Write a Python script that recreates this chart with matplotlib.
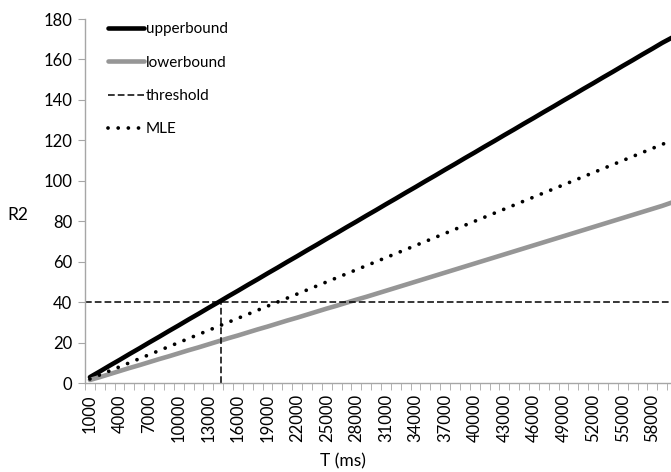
import matplotlib
matplotlib.use("Agg")
import matplotlib.pyplot as plt
from matplotlib.ticker import FixedLocator

plt.rcParams["font.family"] = ["Lato", "DejaVu Sans"]

# categories (ms)
T = list(range(1000, 60001, 1000))

upperbound = [2.9, 5.7, 8.6, 11.4, 14.3, 17.1, 20.0, 22.8, 25.7, 28.5,
              31.4, 34.2, 37.1, 39.9, 42.8, 45.6, 48.5, 51.3, 54.2, 57.0,
              59.9, 62.7, 65.6, 68.4, 71.3, 74.1, 77.0, 79.8, 82.7, 85.5,
              88.4, 91.2, 94.1, 96.9, 99.8, 102.6, 105.5, 108.3, 111.2, 114.0,
              116.9, 119.7, 122.6, 125.4, 128.3, 131.1, 134.0, 136.8, 139.7, 142.5,
              145.4, 148.2, 151.1, 153.9, 156.8, 159.6, 162.5, 165.3, 168.2, 170.8]

lowerbound = [1.5, 2.9, 4.4, 5.9, 7.4, 8.8, 10.3, 11.8, 13.2, 14.7,
              16.2, 17.6, 19.1, 20.6, 22.1, 23.5, 25.0, 26.5, 27.9, 29.4,
              30.9, 32.3, 33.8, 35.3, 36.8, 38.2, 39.7, 41.2, 42.6, 44.1,
              45.6, 47.1, 48.6, 50.1, 51.6, 53.1, 54.6, 56.1, 57.6, 59.1,
              60.6, 62.1, 63.6, 65.1, 66.6, 68.1, 69.6, 71.1, 72.6, 74.1,
              75.6, 77.1, 78.6, 80.1, 81.6, 83.1, 84.6, 86.1, 87.6, 89.3]

mle = [2, 4, 6, 8, 10, 12, 14, 16, 18, 20,
       22, 24, 26, 28, 30, 32, 34, 36, 38, 40,
       42, 44, 46, 48, 50, 52, 54, 56, 58, 60,
       62, 64, 66, 68, 70, 72, 74, 76, 78, 80,
       82, 84, 86, 88, 90, 92, 94, 96, 98, 100,
       102, 104, 106, 108, 110, 112, 114, 116, 118, 120]

threshold = 40
threshold_T = 14300

tick_labels = list(range(1000, 58001, 3000))

fig = plt.figure(figsize=(6.71, 4.72), dpi=100)
ax = fig.add_axes([85 / 671, 89 / 472, 592 / 671, 364 / 472])

ax.plot(T, upperbound, color="black", lw=3.3, solid_capstyle="round", label="upperbound")
ax.plot(T, lowerbound, color="#969696", lw=3.3, solid_capstyle="round", label="lowerbound")
ax.plot([500, 60500], [threshold, threshold], color="black", lw=1.1,
        linestyle=(0, (4.4, 2.0)), label="threshold")
ax.plot(T, mle, color="black", lw=2.7, linestyle=(0, (0.01, 2.7)),
        dash_capstyle="round", label="MLE")
ax.plot([threshold_T, threshold_T], [0, threshold], color="black", lw=1.1,
        linestyle=(0, (4.4, 2.0)))

ax.set_xlim(500, 60500)
ax.set_ylim(0, 180)
ax.set_yticks(range(0, 181, 20))
ax.set_xticks(tick_labels)
ax.set_xticklabels([str(v) for v in tick_labels], rotation=90)
ax.xaxis.set_minor_locator(FixedLocator([500 + 1000 * i for i in range(61)]))

for s in ["top", "right"]:
    ax.spines[s].set_visible(False)
for s in ["left", "bottom"]:
    ax.spines[s].set_color("#a6a6a6")
    ax.spines[s].set_linewidth(1.0)

ax.tick_params(axis="y", length=5, color="#a6a6a6", labelsize=12, pad=4)
ax.tick_params(axis="x", which="major", length=0, labelsize=12, pad=8)
ax.tick_params(axis="x", which="minor", length=5, color="#a6a6a6")

fig.text(343 / 671, 11 / 472, "T (ms)", ha="center", va="center", fontsize=12.5)
fig.text(18 / 671, 1 - 215 / 472, "R2", ha="center", va="center", fontsize=12.5)

leg = ax.legend(loc="upper left", bbox_to_anchor=(102 / 671, 1 - 16 / 472),
                bbox_transform=fig.transFigure, frameon=False, fontsize=11,
                handlelength=2.35, handletextpad=0.1, labelspacing=1.27,
                borderaxespad=0)

fig.savefig("out.png", dpi=100)
